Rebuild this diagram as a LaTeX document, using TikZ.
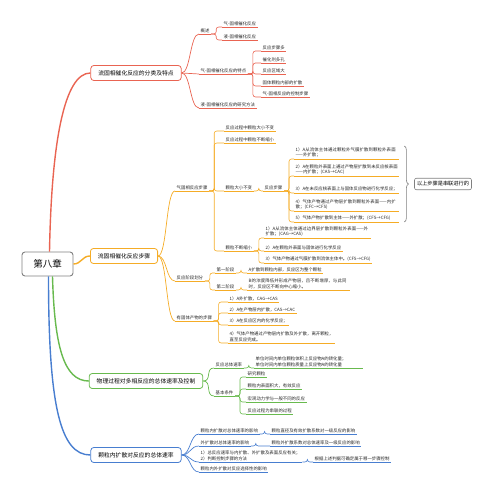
\documentclass[tikz,border=0pt]{standalone}
\usepackage{fontspec}
\setmainfont{Noto Sans CJK SC}
\XeTeXlinebreaklocale "zh"
\XeTeXlinebreakskip=0pt plus 0.5pt
\usepackage{xcolor}
\definecolor{mapred}{RGB}{233,100,82}
\definecolor{maporange}{RGB}{245,172,38}
\definecolor{mapgreen}{RGB}{104,186,78}
\definecolor{mapblue}{RGB}{72,126,208}
\definecolor{mapgray}{RGB}{128,128,128}
\usetikzlibrary{positioning,decorations.pathreplacing}
\tikzset{
  chapter/.style={draw=mapgray,line width=0.9pt,rounded corners=3pt,fill=white,
    minimum width=51pt,minimum height=24pt,font=\fontsize{9.5}{10}\selectfont},
  topic/.style={draw=#1,line width=0.8pt,rounded corners=3pt,fill=white,
    minimum height=15pt,inner xsep=7.5pt,font=\fontsize{5.8}{6.5}\selectfont},
  leaf/.style={anchor=south west,inner xsep=1.5pt,inner ysep=1.3pt,text=black!85,
    font=\fontsize{4.4}{5.5}\selectfont,
    append after command={(\tikzlastnode.south west) edge[draw=#1,line width=0.6pt] (\tikzlastnode.south east)}},
  para/.style={text width=#1,align=left},
  summary/.style={draw=mapgray,line width=0.6pt,rounded corners=2pt,inner xsep=2.5pt,
    minimum height=11pt,font=\fontsize{5.2}{6}\selectfont},
}
\newcommand{\mainline}[4]{%
  \draw[#1,line width=1.4pt] (#2) .. controls #4 .. (#3.west);}
\newcommand{\bough}[3]{%
  \draw[#1,line width=0.7pt] (#2) .. controls +(9,0) and +(-9,0) .. (#3.south west);}
\newcommand{\twig}[3]{%
  \draw[#1,line width=0.6pt,rounded corners=2.5pt] (#2) -- ++(5,0) |- (#3.south west);}

\begin{document}
\begin{tikzpicture}[x=1pt,y=-1pt]
  \useasboundingbox (0,0) rectangle (494,497);
  \node[chapter] (zhang) at (47.5,264) {第八章};

  % 分类及特点
  \node[topic=mapred] (fenlei) at (136,73) {流固相催化反应的分类及特点};
  \node[leaf=mapred] (gaishu) at (199,34) {概述};
  \node[leaf=mapred] (qigu) at (222,27) {气-固相催化反应};
  \node[leaf=mapred] (yegu) at (222,40) {液-固相催化反应};
  \node[leaf=mapred] (tedian) at (199,74) {气-固相催化反应的特点};
  \node[leaf=mapred] (td1) at (261,51) {反应步骤多};
  \node[leaf=mapred] (td2) at (261,63) {催化剂多孔};
  \node[leaf=mapred] (td3) at (261,74) {反应区域大};
  \node[leaf=mapred] (td4) at (261,86) {固体颗粒内部的扩散};
  \node[leaf=mapred] (td5) at (261,97) {气-固相反应的控制步骤};
  \node[leaf=mapred] (fangfa) at (199,108) {液-固相催化反应的研究方法};
  \mainline{mapred}{[xshift=2pt]zhang.north}{fenlei}{+(2,-110) and +(-26,0)}
  \bough{mapred}{fenlei.east}{gaishu}
  \bough{mapred}{fenlei.east}{tedian}
  \bough{mapred}{fenlei.east}{fangfa}
  \twig{mapred}{gaishu.south east}{qigu}
  \twig{mapred}{gaishu.south east}{yegu}
  \foreach \n in {td1,td2,td3,td4,td5}{\twig{mapred}{tedian.south east}{\n}}

  % 反应步骤
  \node[topic=maporange] (buzhou) at (124,256) {流固相催化反应步骤};
  \node[leaf=maporange] (feicui) at (175,191) {气固相反应步骤};
  \node[leaf=maporange] (bubian1) at (224,131) {反应过程中颗粒大小不变};
  \node[leaf=maporange] (suoxiao1) at (224,143) {反应过程中颗粒不断缩小};
  \node[leaf=maporange] (bubian) at (224,191) {颗粒大小不变};
  \node[leaf=maporange] (suoxiao) at (224,251) {颗粒不断缩小};
  \node[leaf=maporange] (bz) at (263,191) {反应步骤};
  \node[leaf=maporange,para=102pt] (s1) at (294,159) {1）A从流体主体通过颗粒外气膜扩散到颗粒外表面——外扩散；};
  \node[leaf=maporange,para=102pt] (s2) at (294,176) {2）A在颗粒外表面上通过产物层扩散到未反应核表面——内扩散；(CAS→CAC)};
  \node[leaf=maporange,para=102pt] (s3) at (294,193) {3）A在未反应核表面上与固体反应物进行化学反应；};
  \node[leaf=maporange,para=102pt] (s4) at (294,211) {4）气体产物通过产物层扩散到颗粒外表面——内扩散；(CFC→CFS)};
  \node[leaf=maporange,para=102pt] (s5) at (294,222) {5）气体产物扩散到主体——外扩散；(CFS→CFG)};
  \draw[mapgray,line width=0.6pt,decorate,decoration={brace,amplitude=4pt}]
    ([xshift=5pt]s1.north east) -- ([xshift=5pt]s5.south east);
  \node[summary] (chuanlian) at (443,184) {以上步骤是串联进行的};
  \node[leaf=maporange,para=104pt] (t1) at (264,238) {1）A从流体主体通过边界层扩散到颗粒外表面——外扩散；(CAG→CAS)};
  \node[leaf=maporange] (t2) at (264,251) {2）A在颗粒外表面与固体进行化学反应};
  \node[leaf=maporange] (t3) at (264,263) {3）气体产物通过气膜扩散到流体主体中。(CFS→CFG)};
  \node[leaf=maporange] (jieduan) at (175,281) {反应阶段划分};
  \node[leaf=maporange] (jd1) at (215,273) {第一阶段};
  \node[leaf=maporange] (jd1x) at (247,273) {A扩散到颗粒内部，反应区为整个颗粒};
  \node[leaf=maporange] (jd2) at (215,290) {第二阶段};
  \node[leaf=maporange,para=100pt] (jd2x) at (247,290) {B的浓度降低并形成产物层，且不断增厚，与此同时，反应区不断向中心缩小。};
  \node[leaf=maporange] (chanwu) at (175,321) {有固体产物的步骤};
  \node[leaf=maporange] (u1) at (228,302) {1）A外扩散，CAG→CAS};
  \node[leaf=maporange] (u2) at (228,313) {2）A在产物层内扩散，CAS→CAC};
  \node[leaf=maporange] (u3) at (228,325) {3）A在反应区内的化学反应；};
  \node[leaf=maporange,para=104pt] (u4) at (228,343) {4）气体产物通过产物层内扩散及外扩散，离开颗粒，直至反应完成。};
  \mainline{maporange}{zhang.east}{buzhou}{+(8,0) and +(-8,0)}
  \bough{maporange}{buzhou.east}{feicui}
  \bough{maporange}{buzhou.east}{jieduan}
  \bough{maporange}{buzhou.east}{chanwu}
  \foreach \n in {bubian1,suoxiao1,bubian,suoxiao}{\twig{maporange}{feicui.south east}{\n}}
  \twig{maporange}{bubian.south east}{bz}
  \foreach \n in {s1,s2,s3,s4,s5}{\twig{maporange}{bz.south east}{\n}}
  \foreach \n in {t1,t2,t3}{\twig{maporange}{suoxiao.south east}{\n}}
  \twig{maporange}{jieduan.south east}{jd1}
  \twig{maporange}{jieduan.south east}{jd2}
  \twig{maporange}{jd1.south east}{jd1x}
  \twig{maporange}{jd2.south east}{jd2x}
  \foreach \n in {u1,u2,u3,u4}{\twig{maporange}{chanwu.south east}{\n}}

  % 总体速率及控制
  \node[topic=mapgreen] (wuli) at (146,381) {物理过程对多相反应的总体速率及控制};
  \node[leaf=mapgreen] (sulv) at (214,368) {反应总体速率};
  \node[leaf=mapgreen,para=106pt] (sulvx) at (254,368) {单位时间内单位颗粒体积上反应物A的转化量；\\单位时间内单位颗粒质量上反应物A的转化量};
  \node[leaf=mapgreen] (tiaojian) at (214,396) {基本条件};
  \node[leaf=mapgreen] (tj1) at (246,377) {研究颗粒};
  \node[leaf=mapgreen] (tj2) at (246,389) {颗粒内表面积大，有效反应};
  \node[leaf=mapgreen] (tj3) at (246,402) {宏观动力学与一般不同的反应};
  \node[leaf=mapgreen] (tj4) at (246,414) {反应过程为串联的过程};
  \mainline{mapgreen}{[xshift=5pt]zhang.south}{wuli}{+(2,70) and +(-25,0)}
  \bough{mapgreen}{wuli.east}{sulv}
  \bough{mapgreen}{wuli.east}{tiaojian}
  \twig{mapgreen}{sulv.south east}{sulvx}
  \foreach \n in {tj1,tj2,tj3,tj4}{\twig{mapgreen}{tiaojian.south east}{\n}}

  % 颗粒内扩散
  \node[topic=mapblue] (keli) at (136,455) {颗粒内扩散对反应的总体速率};
  \node[leaf=mapblue] (kl1) at (199,434) {颗粒内扩散对总体速率的影响};
  \node[leaf=mapblue] (kl1x) at (270,434) {颗粒直径及有效扩散系数对一级反应的影响};
  \node[leaf=mapblue] (kl2) at (199,446) {外扩散对总体速率的影响};
  \node[leaf=mapblue] (kl2x) at (270,446) {颗粒外扩散系数对总体速率及一级反应的影响};
  \node[leaf=mapblue,para=100pt] (kl3) at (199,462) {1）总反应速率与内扩散、外扩散及表面反应有关；2）判断控制步骤的方法};
  \node[leaf=mapblue] (kl3x) at (313,462) {根据上述判据可确定属于哪一步骤控制};
  \node[leaf=mapblue] (kl4) at (199,472) {颗粒内外扩散对反应选择性的影响};
  \mainline{mapblue}{[xshift=1pt]zhang.south}{keli}{+(0,130) and +(-30,0)}
  \foreach \n in {kl1,kl2,kl3,kl4}{\bough{mapblue}{keli.east}{\n}}
  \twig{mapblue}{kl1.south east}{kl1x}
  \twig{mapblue}{kl2.south east}{kl2x}
  \twig{mapblue}{kl3.south east}{kl3x}
\end{tikzpicture}
\end{document}
